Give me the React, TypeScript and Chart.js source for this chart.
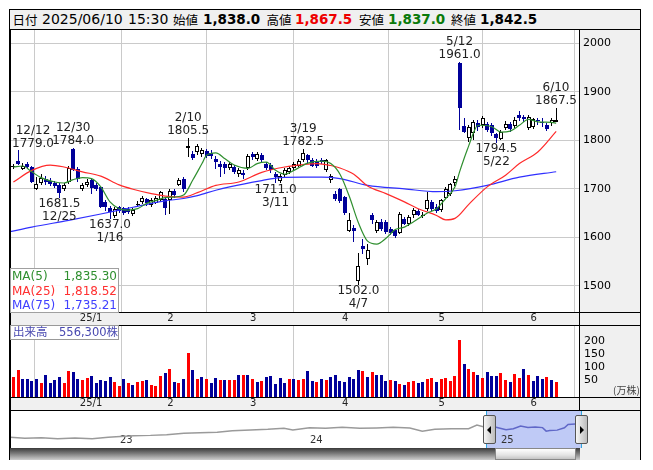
import React, { useEffect, useRef } from 'react';
import { Chart, registerables } from 'chart.js';

Chart.register(...registerables);
Chart.defaults.font.family = '"DejaVu Sans", sans-serif';

// ---------------- data ----------------
const DATES = [
  '12/10','12/11','12/12','12/13','12/16','12/17','12/18','12/19','12/20','12/23','12/24','12/25','12/26','12/27','12/30',
  '1/6','1/7','1/8','1/9','1/10','1/14','1/15','1/16','1/17','1/20','1/21','1/22','1/23','1/24','1/27','1/28','1/29','1/30','1/31',
  '2/3','2/4','2/5','2/6','2/7','2/10','2/12','2/13','2/14','2/17','2/18','2/19','2/20','2/21','2/25','2/26','2/27','2/28',
  '3/3','3/4','3/5','3/6','3/7','3/10','3/11','3/12','3/13','3/14','3/17','3/18','3/19','3/21','3/24','3/25','3/26','3/27','3/28','3/31',
  '4/1','4/2','4/3','4/4','4/7','4/8','4/9','4/10','4/11','4/14','4/15','4/16','4/17','4/18','4/21','4/22','4/23','4/24','4/25','4/28','4/30',
  '5/1','5/2','5/7','5/8','5/9','5/12','5/13','5/14','5/15','5/16','5/19','5/20','5/21','5/22','5/23','5/26','5/27','5/28','5/29','5/30',
  '6/2','6/3','6/4','6/5','6/6','6/9','6/10',
];
const OPEN = [1742,1745,1758,1740,1752,1745,1700,1712,1720,1716,1712,1708,1700,1714,1782,
  1740,1699,1707,1718,1708,1704,1672,1660,1643,1662,1660,1658,1648,1667,1672,1679,1666,1671,1677,
  1678,1677,1695,1708,1720,1784,1772,1776,1772,1778,1774,1762,1752,1752,1742,1745,1730,1733,
  1742,1772,1762,1770,1752,1750,1730,1716,1728,1735,1742,1748,1760,1770,1760,1758,1760,1738,1718,1690,
  1700,1683,1612,1620,1510,1582,1556,1645,1612,1632,1632,1618,1615,1608,1638,1628,1645,1655,1645,1659,1673,
  1663,1656,1681,1690,1711,1959,1830,1805,1815,1836,1831,1834,1832,1812,1803,1826,1834,1830,1852,1848,
  1826,1828,1841,1838,1832,1835,1838];
const HIGH = [1750,1752,1779,1753,1756,1748,1724,1730,1726,1722,1716,1712,1712,1746,1784,
  1745,1712,1720,1722,1712,1706,1676,1664,1662,1665,1663,1662,1660,1675,1686,1682,1682,1686,1696,
  1682,1700,1700,1722,1724,1805.5,1778,1792,1784,1782,1779,1768,1758,1756,1756,1750,1742,1738,
  1772,1776,1776,1774,1756,1754,1734,1730,1742,1746,1755,1762,1782.5,1772,1764,1762,1764,1762,1730,1695,
  1702,1686,1650,1625,1567,1597,1587,1650,1636,1638,1636,1622,1618,1652,1642,1645,1660,1658,1652,1693,1677,
  1668,1680,1704,1712,1726,1961,1845,1832,1842,1842,1850,1838,1836,1816,1822,1840,1838,1848,1860,1852,
  1852,1846,1846,1845,1836,1845,1867.5];
const LOW = [1736,1740,1750,1738,1740,1712,1697,1708,1708,1706,1702,1681.5,1696,1710,1736,
  1715,1695,1703,1690,1695,1660,1655,1637,1640,1650,1645,1648,1643,1663,1668,1665,1662,1668,1672,
  1645,1648,1682,1705,1694,1766,1760,1770,1766,1764,1762,1740,1724,1730,1738,1730,1725,1720,
  1738,1760,1758,1755,1738,1732,1711,1712,1724,1731,1738,1745,1755,1752,1744,1742,1752,1734,1712,1675,
  1670,1645,1610,1590,1502,1566,1542,1628,1608,1612,1606,1604,1598,1606,1625,1624,1640,1644,1640,1655,1655,
  1650,1652,1678,1686,1706,1822,1815,1796,1800,1820,1826,1818,1808,1794.5,1800,1822,1818,1826,1840,1838,
  1822,1824,1832,1828,1820,1830,1837];
const CLOSE = [1745,1747,1752,1748,1744,1715,1710,1722,1714,1710,1706,1692,1708,1743,1738,
  1720,1708,1714,1702,1700,1663,1662,1652,1658,1655,1650,1652,1656,1669,1681,1670,1677,1681,1693,
  1660,1695,1688,1719,1700,1789,1764,1789,1780,1767,1768,1755,1745,1742,1752,1735,1738,1728,
  1768,1765,1772,1760,1742,1738,1724,1726,1738,1743,1752,1758,1774,1760,1748,1746,1755,1760,1726,1678,
  1675,1650,1636,1613,1540,1575,1573,1635,1632,1618,1610,1608,1602,1649,1628,1642,1657,1647,1646,1676,1659,
  1654,1676,1700,1710,1720,1867,1818,1828,1838,1828,1845,1822,1816,1805,1818,1834,1824,1841,1845,1843,
  1848,1843,1839,1837,1824,1842,1842.5];

// volume in 万株, and 1 = up day (red) / 0 = down day (blue)
const VOLUME = [70,77.5,103,68,68,61,68,54,84,54,65,76,54,99,96,68,65,72,80,54,65,62,76,57,41,68,54,46,57,61,65,
  45,41,80,93,107,58,54,68,170,103,68,76,68,54,72,65,65,65,65,84,84,84,68,57,61,76,80,50,72,54,68,
  68,65,68,99,61,57,68,65,76,84,61,57,76,68,103,99,76,96,84,84,61,65,61,49,46,57,61,54,57,68,72,57,
  68,72,61,80,220,127,107,96,84,72,96,80,80,92,65,57,88,72,107,84,61,80,68,76,65,55.63];
const VOLUME_UP = [1,1,1,0,0,0,0,1,0,0,0,0,1,1,0,0,1,1,0,0,0,0,0,1,1,0,1,0,1,1,0,
  1,1,1,0,1,0,1,0,1,0,1,0,1,0,0,1,0,1,1,0,1,0,1,0,1,0,0,0,0,0,1,
  0,1,1,0,0,1,0,1,0,0,0,0,0,0,0,1,0,1,0,0,0,1,0,1,0,1,1,0,0,1,1,0,
  1,1,1,1,1,0,1,1,0,1,0,0,0,1,1,0,1,1,0,1,0,0,0,1,0,1];

const MA5_IDX = [1,3,5,7,10,12,14,16,18,20,22,24,26,28,30,32,34,36,38,40,42,43,45,47,49,52,54,56,58,60,62,65,68,70,72,74,76,78,80,82,84,86,88,91,93,95,97,98,99,100,101,102,105,107,109,111,113,115,118,119];
const MA5_VAL = [1745,1747,1735,1723,1714,1712,1719,1723,1721,1704,1673,1659,1656,1659,1670,1676,1682,1683,1687,1718,1752,1769,1774,1762,1749,1742,1752,1755,1738,1730,1738,1753,1757,1752,1730,1685,1630,1592,1586,1598,1616,1621,1632,1650,1659,1680,1704,1735,1763,1789,1815,1831,1828,1817,1819,1831,1843,1838,1837,1835.30];
const MA25_IDX = [1,5,9,12,16,20,24,27,31,34,38,41,45,50,55,60,64,67,70,72,75,78,82,86,89,93,95,97,100,104,108,111,115,119];
const MA25_VAL = [1714,1738,1749,1745,1735,1726,1708,1699,1690,1685,1683,1692,1707,1714,1734,1745,1750,1752,1748,1743,1730,1706,1690,1673,1659,1645,1636,1639,1668,1704,1728,1752,1776,1818.52];
const MA75_IDX = [0,5,13,20,27,34,38,41,45,48,55,59,64,68,72,78,86,93,97,104,111,119];
const MA75_VAL = [1611,1621,1635,1648,1662,1675,1680,1686,1697,1704,1717,1723,1724,1724,1721,1707,1700,1694,1696,1707,1724,1735.21];

const PRICE_TICKS = [1500, 1600, 1700, 1800, 1900, 2000];
const VOLUME_TICKS = [50, 100, 150, 200];
const MONTH_TICK_DATES = ['1/6', '2/3', '3/3', '4/1', '5/1', '6/2'];
const MONTH_TICK_LABELS = ['25/1', '2', '3', '4', '5', '6'];

const ANN_DATES = ['12/12', '12/30', '12/25', '1/16', '2/10', '3/11', '3/19', '4/7', '5/12', '5/22', '6/10'];
const ANN_KIND = ['H', 'H', 'L', 'L', 'H', 'L', 'H', 'L', 'H', 'L', 'H'];

const NAV_DATES = ['2022-06-10','2022-07-08','2022-08-09','2022-09-09','2022-10-12','2022-11-14','2022-12-15','2022-12-30',
  '2023-02-02','2023-03-06','2023-04-06','2023-05-09','2023-06-09','2023-07-12','2023-08-10','2023-09-14','2023-10-17','2023-11-17','2023-12-04',
  '2024-01-05','2024-02-05','2024-03-08','2024-04-11','2024-05-13','2024-06-14','2024-07-16','2024-08-09','2024-09-02','2024-10-04','2024-11-06','2024-11-22','2024-12-06',
  '2024-12-10','2024-12-27','2025-01-17','2025-01-31','2025-02-14','2025-02-28','2025-03-14','2025-03-28','2025-04-04','2025-04-11','2025-04-25','2025-05-09','2025-05-16','2025-05-30','2025-06-10'];
const NAV_VALUES = [1416,1384,1404,1372,1394,1372,1416,1436,
  1468,1478,1500,1544,1564,1575,1628,1650,1671,1703,1650,
  1725,1703,1736,1703,1714,1736,1714,1607,1671,1693,1693,1810,1745,
  1745,1743,1658,1693,1780,1728,1743,1726,1613,1632,1646,1720,1828,1843,1842.5];
const NAV_YEARS = [2023, 2024, 2025];
const NAV_YEAR_LABELS = ['23', '24', '25'];
const SELECTION_START = '2024-12-10';
const SELECTION_END = '2025-06-10';

const HEADER_DATE = '2025/06/10';
const HEADER_TIME = '15:30';

// ---------------- scale ranges / styles ----------------
const X_MIN = 0.26, X_MAX = 123.96;
const Y_MIN = 1446, Y_MAX = 2027.4;
const V_MIN = -1, V_MAX = 278;
const NAV_X_MIN = 2022.437, NAV_X_MAX = 2025.443;
const NAV_Y_MIN = 1074, NAV_Y_MAX = 2290;

const NAVY = '#000099';
const C_MA5 = '#2f8f2f', C_MA25 = '#ff2a2a', C_MA75 = '#3030ff';
const GRID = '#cacaca';
const PANEL = '#f0f0f0';

const fmt = (v: number, d: number) => v.toLocaleString('en-US', { minimumFractionDigits: d, maximumFractionDigits: d });
const yearFrac = (s: string) => {
  const [y, m, d] = s.split('-').map(Number);
  const t = Date.UTC(y, m - 1, d), t0 = Date.UTC(y, 0, 1), t1 = Date.UTC(y + 1, 0, 1);
  return y + (t - t0) / (t1 - t0);
};
const MONTH_IDX = MONTH_TICK_DATES.map((d) => DATES.indexOf(d));

const fixScale = (w?: number, h?: number) => (s: any) => {
  if (w !== undefined) s.width = w;
  if (h !== undefined) s.height = h;
  s.paddingLeft = 0; s.paddingRight = 0; s.paddingTop = 0; s.paddingBottom = 0;
};

const snapPlugin = {
  id: 'snapBars',
  afterDatasetsUpdate(chart: any) {
    chart.data.datasets.forEach((_: any, di: number) => {
      const meta = chart.getDatasetMeta(di);
      if (meta.type !== 'bar') return;
      meta.data.forEach((el: any) => {
        const w = Math.max(1, Math.round(el.width));
        el.width = w;
        el.x = w % 2 === 1 ? Math.floor(el.x) + 0.5 : Math.round(el.x);
        const y = Math.round(el.y);
        let b = Math.round(el.base);
        if (Math.abs(y - b) < 1) b = y + 1;
        el.y = y; el.base = b;
      });
    });
  },
};

const annotationPlugin = {
  id: 'hiLoLabels',
  afterDatasetsDraw(chart: any) {
    const { ctx, chartArea, scales } = chart;
    const xs = scales.x, ys = scales.y;
    ctx.save();
    ctx.font = '12px "DejaVu Sans"';
    ctx.textAlign = 'center';
    ctx.textBaseline = 'middle';
    ctx.fillStyle = '#222222';
    ANN_DATES.forEach((d, k) => {
      const i = DATES.indexOf(d);
      const isHigh = ANN_KIND[k] === 'H';
      const v = isHigh ? HIGH[i] : LOW[i];
      const vt = v.toFixed(1);
      const px = xs.getPixelForValue(i);
      const py = ys.getPixelForValue(v);
      const w = Math.max(ctx.measureText(vt).width, ctx.measureText(d).width);
      const cx = Math.min(Math.max(px, chartArea.left + 2 + w / 2), chartArea.right - 2 - w / 2);
      if (isHigh) {
        ctx.fillText(d, cx, py - 20);
        ctx.fillText(vt, cx, py - 7);
      } else {
        ctx.fillText(vt, cx, py + 6);
        ctx.fillText(d, cx, py + 19);
      }
    });
    ctx.restore();
  },
};

const navPlugin = {
  id: 'navDecor',
  beforeDatasetsDraw(chart: any) {
    const { ctx, chartArea, scales } = chart;
    const x = scales.x;
    const x0 = Math.round(x.getPixelForValue(yearFrac(SELECTION_START)));
    const x1 = Math.round(x.getPixelForValue(yearFrac(SELECTION_END)));
    const top = chartArea.top, h = chartArea.bottom - chartArea.top;
    ctx.save();
    ctx.fillStyle = '#bfcaf6';
    ctx.fillRect(x0, top, x1 - x0, h);
    ctx.fillStyle = '#30a8e0';
    ctx.fillRect(x0, top, 1, h);
    ctx.fillRect(x1, top, 1, h);
    ctx.fillStyle = '#333333';
    ctx.font = '10px "DejaVu Sans"';
    ctx.textAlign = 'left';
    ctx.textBaseline = 'middle';
    NAV_YEARS.forEach((yr, k) => {
      ctx.fillText(NAV_YEAR_LABELS[k], Math.round(x.getPixelForValue(yr)) + 3, top + 30.5);
    });
    ctx.restore();
  },
};

const xScaleCfg = () => ({
  type: 'linear',
  min: X_MIN,
  max: X_MAX,
  offset: false,
  grid: { color: GRID, lineWidth: 1, drawTicks: false },
  border: { display: false },
  ticks: {
    autoSkip: false, maxRotation: 0, minRotation: 0, align: 'start', labelOffset: 2, padding: 0,
    color: '#222222', font: { size: 10, family: '"DejaVu Sans"' },
    callback: (v: number) => {
      const k = MONTH_IDX.indexOf(v);
      return k >= 0 ? MONTH_TICK_LABELS[k] : '';
    },
  },
  afterBuildTicks: (s: any) => { s.ticks = MONTH_IDX.map((v) => ({ value: v })); },
  afterFit: fixScale(undefined, 13),
});

function mainConfig(): any {
  const idx = DATES.map((_, i) => i);
  const up = idx.map((i) => CLOSE[i] >= OPEN[i]);
  const line = (ix: number[], vals: number[], color: string) => ({
    type: 'line',
    data: ix.map((x, k) => ({ x, y: vals[k] })),
    borderColor: color,
    borderWidth: 1.2,
    pointRadius: 0,
    cubicInterpolationMode: 'monotone',
    order: 0,
  });
  return {
    type: 'bar',
    data: {
      datasets: [
        line(MA5_IDX, MA5_VAL, C_MA5),
        line(MA25_IDX, MA25_VAL, C_MA25),
        line(MA75_IDX, MA75_VAL, C_MA75),
        {
          type: 'bar',
          data: idx.map((i) => ({ x: i, y: [OPEN[i], CLOSE[i]] })),
          backgroundColor: idx.map((i) => (up[i] ? '#ffffff' : NAVY)),
          borderColor: idx.map((i) => (up[i] ? '#000000' : NAVY)),
          borderWidth: 1,
          borderSkipped: false,
          inflateAmount: 0,
          grouped: false,
          barThickness: 4,
          maxBarThickness: 4,
          order: 1,
        },
        {
          type: 'bar',
          data: idx.map((i) => ({ x: i, y: [LOW[i], HIGH[i]] })),
          backgroundColor: idx.map((i) => (up[i] ? '#000000' : NAVY)),
          borderWidth: 0,
          inflateAmount: 0,
          grouped: false,
          barThickness: 1,
          maxBarThickness: 1,
          order: 2,
        },
      ],
    },
    options: {
      responsive: false,
      animation: false,
      devicePixelRatio: 1,
      layout: { padding: 0 },
      events: [],
      plugins: { legend: { display: false }, tooltip: { enabled: false } },
      scales: {
        x: xScaleCfg(),
        y: {
          type: 'linear',
          position: 'right',
          min: Y_MIN,
          max: Y_MAX,
          grid: { color: GRID, lineWidth: 1, drawTicks: false },
          border: { display: false },
          ticks: { padding: 4, color: '#000000', font: { size: 11, family: '"DejaVu Sans"' }, callback: (v: number) => String(v) },
          afterBuildTicks: (s: any) => { s.ticks = PRICE_TICKS.map((v) => ({ value: v })); },
          afterFit: fixScale(61, undefined),
        },
      },
    },
    plugins: [snapPlugin, annotationPlugin],
  };
}

function volConfig(): any {
  const idx = DATES.map((_, i) => i);
  return {
    type: 'bar',
    data: {
      datasets: [
        {
          type: 'bar',
          data: idx.map((i) => ({ x: i, y: VOLUME[i] })),
          backgroundColor: idx.map((i) => (VOLUME_UP[i] ? '#ff0000' : NAVY)),
          borderWidth: 0,
          inflateAmount: 0,
          grouped: false,
          barThickness: 3,
          maxBarThickness: 3,
        },
      ],
    },
    options: {
      responsive: false,
      animation: false,
      devicePixelRatio: 1,
      layout: { padding: 0 },
      events: [],
      plugins: { legend: { display: false }, tooltip: { enabled: false } },
      scales: {
        x: xScaleCfg(),
        y: {
          type: 'linear',
          position: 'right',
          min: V_MIN,
          max: V_MAX,
          grid: { display: false, drawTicks: false },
          border: { display: false },
          ticks: { padding: 5, labelOffset: -4, color: '#000000', font: { size: 11, family: '"DejaVu Sans"' }, callback: (v: number) => String(v) },
          afterBuildTicks: (s: any) => { s.ticks = VOLUME_TICKS.map((v) => ({ value: v })); },
          afterFit: fixScale(61, undefined),
        },
      },
    },
    plugins: [snapPlugin],
  };
}

function navConfig(): any {
  const selStart = yearFrac(SELECTION_START);
  return {
    type: 'line',
    data: {
      datasets: [
        {
          data: NAV_DATES.map((d, k) => ({ x: yearFrac(d), y: NAV_VALUES[k] })),
          borderColor: '#9a9a9a',
          borderWidth: 1.5,
          pointRadius: 0,
          tension: 0,
          segment: {
            borderColor: (c: any) => (c.p0.parsed.x >= selStart - 1e-6 ? '#6068c8' : '#9a9a9a'),
          },
        },
      ],
    },
    options: {
      responsive: false,
      animation: false,
      devicePixelRatio: 1,
      layout: { padding: 0 },
      events: [],
      plugins: { legend: { display: false }, tooltip: { enabled: false } },
      scales: {
        x: { type: 'linear', display: false, min: NAV_X_MIN, max: NAV_X_MAX },
        y: { type: 'linear', display: false, min: NAV_Y_MIN, max: NAV_Y_MAX },
      },
    },
    plugins: [navPlugin],
  };
}

// ---------------- component ----------------
const abs = (left: number, top: number, width: number, height: number, extra: any = {}): any => ({
  position: 'absolute', left, top, width, height, boxSizing: 'border-box', ...extra,
});

export default function App() {
  const mainRef = useRef<HTMLCanvasElement>(null);
  const volRef = useRef<HTMLCanvasElement>(null);
  const navRef = useRef<HTMLCanvasElement>(null);

  useEffect(() => {
    const charts: Chart[] = [];
    if (mainRef.current) charts.push(new Chart(mainRef.current, mainConfig()));
    if (volRef.current) charts.push(new Chart(volRef.current, volConfig()));
    if (navRef.current) charts.push(new Chart(navRef.current, navConfig()));
    return () => charts.forEach((c) => c.destroy());
  }, []);

  const last = DATES.length - 1;
  const kanji = { fontFamily: '"Noto Sans CJK JP", sans-serif', fontSize: 12.5, color: '#000' };
  const num = { fontFamily: '"DejaVu Sans", sans-serif', fontSize: 14, color: '#000' };
  const bold = { fontFamily: '"DejaVu Sans", sans-serif', fontSize: 13.5, fontWeight: 700 };
  const headerItems: any[] = [
    { t: '日付', x: 12.5, s: kanji },
    { t: HEADER_DATE, x: 42, s: num },
    { t: HEADER_TIME, x: 128, s: num },
    { t: '始値', x: 173, s: kanji },
    { t: fmt(OPEN[last], 1), x: 203, s: { ...bold, color: '#000' } },
    { t: '高値', x: 266.5, s: kanji },
    { t: fmt(HIGH[last], 1), x: 295, s: { ...bold, color: '#ee0000' } },
    { t: '安値', x: 359, s: kanji },
    { t: fmt(LOW[last], 1), x: 388, s: { ...bold, color: '#0a7a0a' } },
    { t: '終値', x: 451, s: kanji },
    { t: fmt(CLOSE[last], 1), x: 480, s: { ...bold, color: '#000' } },
  ];
  const legendRows = [
    { name: 'MA(5)', v: MA5_VAL[MA5_VAL.length - 1], c: C_MA5 },
    { name: 'MA(25)', v: MA25_VAL[MA25_VAL.length - 1], c: '#ff3030' },
    { name: 'MA(75)', v: MA75_VAL[MA75_VAL.length - 1], c: '#4040ff' },
  ];
  const volText = '出来高　' + Math.round(VOLUME[last] * 10000).toLocaleString('en-US') + '株';
  const black = '#000';

  return (
    <div style={{ position: 'relative', left: 1, top: 1, width: 632, height: 452, border: '1px solid #000', boxSizing: 'border-box', background: '#fff', overflow: 'hidden' }}>
      {/* backgrounds */}
      <div style={abs(0, 0, 630, 20, { background: PANEL, borderBottom: '1px solid #000' })} />
      <div style={abs(570, 20, 60, 430, { background: PANEL })} />
      <div style={abs(0, 303, 630, 12, { background: PANEL })} />
      <div style={abs(0, 388, 630, 12, { background: PANEL })} />

      {/* header text */}
      {headerItems.map((h, k) => (
        <span key={k} style={{ position: 'absolute', left: h.x - 10, top: 0, height: 19, lineHeight: '19px', whiteSpace: 'nowrap', ...h.s }}>{h.t}</span>
      ))}

      {/* charts */}
      <canvas ref={mainRef} width={630} height={295} style={{ position: 'absolute', left: 0, top: 20, width: 630, height: 295 }} />
      <canvas ref={volRef} width={630} height={85} style={{ position: 'absolute', left: 0, top: 315, width: 630, height: 85 }} />
      <canvas ref={navRef} width={572} height={38} style={{ position: 'absolute', left: 0, top: 400, width: 572, height: 38 }} />

      {/* frame lines */}
      <div style={abs(0, 302, 630, 1, { background: black })} />
      <div style={abs(0, 315, 630, 1, { background: black })} />
      <div style={abs(0, 387, 630, 1, { background: black })} />
      <div style={abs(0, 400, 630, 1, { background: black })} />
      <div style={abs(569, 20, 1, 380, { background: black })} />
      <div style={abs(0, 20, 1, 430, { background: black })} />

      {/* MA legend */}
      <div style={abs(0, 258, 109, 45, { border: '1px solid #a0a0a0', background: 'rgba(255,255,255,0.92)' })}>
        {legendRows.map((r, k) => (
          <div key={k} style={{ position: 'absolute', left: 1, top: 0 + k * 14.5, width: 105, height: 14, lineHeight: '14px', fontFamily: '"DejaVu Sans", sans-serif', fontSize: 12, color: r.c }}>
            <span style={{ position: 'absolute', left: 0 }}>{r.name}</span>
            <span style={{ position: 'absolute', right: 0 }}>{fmt(r.v, 2)}</span>
          </div>
        ))}
      </div>

      {/* volume label */}
      <div style={abs(0, 315, 109, 15, { border: '1px solid #999', background: '#fff', fontFamily: '"DejaVu Sans", "Noto Sans CJK JP", sans-serif', fontSize: 11.5, lineHeight: '13px', color: '#4848b0', paddingLeft: 2, whiteSpace: 'nowrap' })}>{volText}</div>
      <div style={{ position: 'absolute', left: 603, top: 374, fontFamily: '"Noto Sans CJK JP", sans-serif', fontSize: 10, lineHeight: '12px', color: '#444', whiteSpace: 'nowrap' }}>(万株)</div>

      {/* scrollbar */}
      <div style={abs(0, 438, 570, 12, { background: 'linear-gradient(to bottom, #3a3a3a 0%, #7a7a7a 45%, #cfcfcf 100%)' })} />
      <div style={abs(485, 438, 81, 12, { background: 'linear-gradient(to bottom, #ffffff 0%, #e4e4e4 60%, #c4c4c4 100%)', border: '1px solid #888' })} />

      {/* handles */}
      <div style={abs(473, 405, 13, 29, { background: 'linear-gradient(to right, #f6f6f6, #bcbcbc)', border: '1px solid #555', borderRadius: 2 })}>
        <div style={{ position: 'absolute', left: 3, top: 10, width: 0, height: 0, borderTop: '4px solid transparent', borderBottom: '4px solid transparent', borderRight: '4px solid #000' }} />
      </div>
      <div style={abs(565, 405, 13, 29, { background: 'linear-gradient(to right, #f6f6f6, #bcbcbc)', border: '1px solid #555', borderRadius: 2 })}>
        <div style={{ position: 'absolute', left: 4, top: 10, width: 0, height: 0, borderTop: '4px solid transparent', borderBottom: '4px solid transparent', borderLeft: '4px solid #000' }} />
      </div>
    </div>
  );
}
